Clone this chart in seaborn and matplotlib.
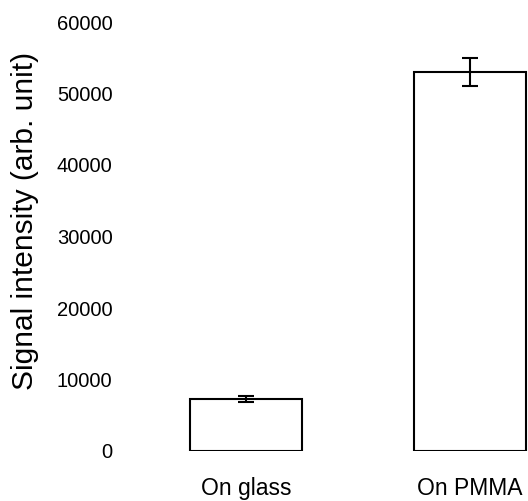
import matplotlib
matplotlib.use("Agg")
import matplotlib.pyplot as plt
import seaborn as sns
import pandas as pd

categories = ["On glass", "On PMMA"]
values = [7300, 53000]
errors = [420, 1950]
yticks = [0, 10000, 20000, 30000, 40000, 50000, 60000]

sns.set_theme(style="white")
plt.rcParams['font.family'] = ['Liberation Sans', 'DejaVu Sans']

W, H = 528, 501
fig = plt.figure(figsize=(W / 100, H / 100), dpi=100)
left_px, right_px = 125, 528
bottom_px, top_px = 451, 22
ax = fig.add_axes([left_px / W, (H - bottom_px) / H,
                   (right_px - left_px) / W, (bottom_px - top_px) / H])

df = pd.DataFrame({"cat": categories, "val": values})
sns.barplot(data=df, x="cat", y="val", ax=ax, width=0.5, color="white",
            edgecolor="black", linewidth=1.5, errorbar=None, saturation=1)
ax.errorbar(x=range(len(categories)), y=values, yerr=errors, fmt="none",
            ecolor="black", elinewidth=1.5, capsize=6, capthick=1.5)

ax.set_ylim(0, 60000)
ax.set_xlim((left_px - 246) / 224, (right_px - 246) / 224)
ax.set_yticks(yticks)
ax.set_yticklabels([str(t) for t in yticks])
ax.tick_params(axis="y", length=0, pad=9, labelsize=14.5, colors="black")
ax.tick_params(axis="x", length=0, pad=19, labelsize=16.5, colors="black")
for s in ax.spines.values():
    s.set_visible(False)
ax.set_xlabel("")
ax.set_ylabel("")
fig.text(25 / W, 1 - 221 / H, "Signal intensity (arb. unit)", rotation=90,
         ha="center", va="center", fontsize=21.5, color="black")

fig.savefig("out.png", dpi=100)
